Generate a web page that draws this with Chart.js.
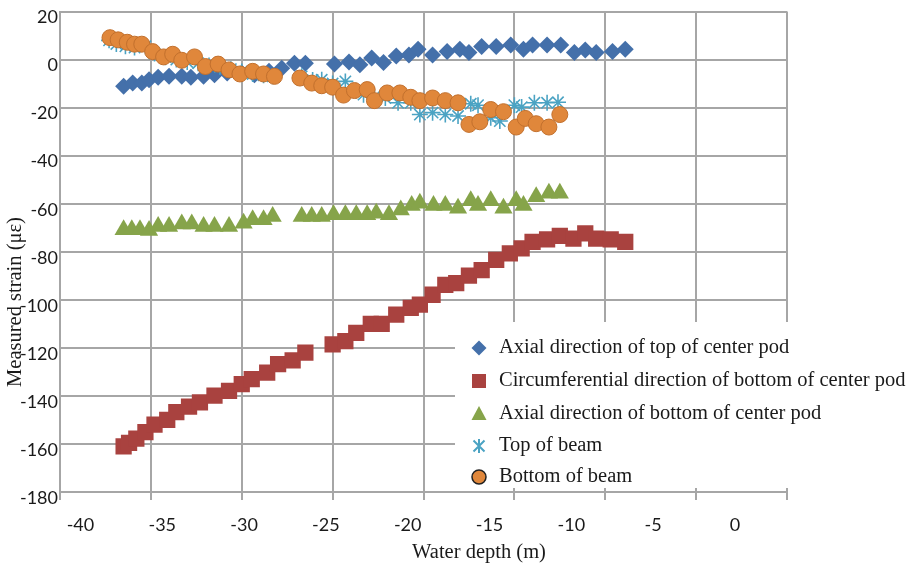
<!DOCTYPE html>
<html>
<head>
<meta charset="utf-8">
<title>Measured strain vs water depth</title>
<script src="https://cdn.jsdelivr.net/npm/chart.js@4.4.1/dist/chart.umd.min.js"></script>
<style>
  html, body { margin: 0; padding: 0; background: #fff; }
  canvas { display: block; }
</style>
</head>
<body>
<canvas id="strain" width="921" height="570"></canvas>
<script>
// water depth (m) / measured strain (microstrain)

const axialTopX = [-36.5, -36.0, -35.5, -35.1, -34.6, -34.0, -33.3, -32.8, -32.1, -31.5, -30.8, -30.0, -29.3, -28.5, -27.8, -27.1, -26.5,
    -24.9, -24.1, -23.5, -22.85, -22.2, -21.5, -20.8, -20.3, -19.5, -18.7, -18.0, -17.5, -16.8, -16.0, -15.2, -14.5, -14.0, -13.2, -12.45,
    -11.7, -11.1, -10.5, -9.6, -8.9];
const axialTopY = [-11.1, -9.8, -9.8, -8.4, -7.4, -7.0, -7.0, -7.4, -7.0, -6.3, -5.6, -5.6, -6.3, -4.9, -3.6, -1.5, -1.5,
    -1.9, -1.0, -2.2, 0.6, -1.2, 1.5, 1.9, 4.3, 1.9, 3.3, 4.3, 2.9, 5.4, 5.4, 6.1, 4.3, 6.1, 6.1, 6.1,
    2.9, 4.0, 2.9, 3.3, 4.3];

const circBottomX = [-36.5, -36.2, -35.8, -35.3, -34.8, -34.1, -33.6, -32.9, -32.3, -31.5, -30.7, -30.0, -29.45, -28.6, -28.0, -27.2, -26.5,
    -25.0, -24.3, -23.7, -22.9, -22.3, -21.5, -20.7, -20.2, -19.5, -18.8, -18.2, -17.5, -16.8, -16.0, -15.25, -14.6, -14.0, -13.2, -12.5,
    -11.75, -11.1, -10.5, -9.7, -8.9];
const circBottomY = [-161, -159.6, -157.8, -155.1, -152, -150, -146.8, -144.5, -142.7, -139.9, -137.9, -135.1, -133, -130.3, -126.8, -125.2, -122,
    -118.6, -117.2, -113.8, -110, -110, -106.2, -103.4, -102, -97.9, -93.8, -93.1, -89.9, -87.6, -83.4, -80.7, -78.6, -75.9, -74.8, -73.4,
    -74.5, -72.4, -74.5, -74.8, -75.9];

const axialBottomX = [-36.5, -36.05, -35.6, -35.1, -34.6, -34.0, -33.3, -32.75, -32.1, -31.5, -30.7, -29.9, -29.4, -28.8, -28.3,
    -26.7, -26.15, -25.6, -24.95,
    -24.3, -23.7, -23.1, -22.6, -21.9, -21.25, -20.65, -20.2, -19.45, -18.8, -18.1, -17.4, -17.0, -16.3, -15.6, -14.9, -14.5, -13.8, -13.1, -12.5];
const axialBottomY = [-70.8, -70.8, -70.8, -71.2, -69.5, -69.5, -68.5, -68.5, -69.5, -69.5, -69.5, -68.1, -66.7, -66.7, -65.3,
    -65.3, -65.3, -65.3, -64.6,
    -64.6, -64.6, -64.6, -64.0, -64.6, -62.6, -60.8, -59.8, -60.8, -60.8, -61.9, -58.8, -60.8, -58.8, -61.9, -58.8, -60.8, -57.1, -55.7, -55.7];

const topBeamX = [-37.3, -36.9, -36.4, -35.9, -35.3, -34.8, -34.2, -33.6, -33.0, -32.4, -31.8, -31.2, -30.6, -30.0, -29.4, -28.8, -28.3,
    -26.7, -26.1, -25.6, -25.0, -24.3, -23.7, -23.3, -22.7, -22.1, -21.4, -20.7, -20.2, -19.5, -18.8, -18.1, -17.4, -17.0, -16.3, -15.8,
    -15.0, -14.6, -13.9, -13.2, -12.6];
const topBeamY = [8, 6.5, 5.5, 5, 5.5, 2.5, 1, 0, -1, -1.5, -2.5, -3, -4, -5, -6, -6.5, -7,
    -7, -8.5, -8.4, -10, -9.1, -13, -14.6, -15.5, -16, -18, -18, -22.9, -22.1, -22.9, -23.5, -18.4, -19, -24.2, -25.6,
    -19, -19.8, -18, -18, -17.8];

const bottomBeamX = [-37.25, -36.8, -36.3, -35.9, -35.5, -34.9, -34.3, -33.8, -33.3, -32.6, -32.0, -31.3, -30.7, -30.1, -29.4, -28.8, -28.2,
    -26.8, -26.15, -25.6, -25.0, -24.4, -23.8, -23.1, -22.7, -22.0, -21.3, -20.7, -20.2, -19.5, -18.8, -18.1, -17.5, -16.9, -16.3, -15.6,
    -14.9, -14.4, -13.8, -13.1, -12.5];
const bottomBeamY = [9.1, 8.2, 7.2, 6.4, 6.4, 3.3, 1.1, 2.2, -0.3, 1.1, -2.9, -1.9, -4.3, -6.0, -4.9, -6.0, -7.0,
    -7.7, -9.8, -10.9, -11.5, -14.8, -12.9, -12.5, -17.1, -13.9, -13.9, -15.7, -17.1, -16.0, -17.1, -18.0, -27.0, -25.9, -20.8, -21.7,
    -28.1, -24.5, -26.7, -28.1, -22.9];

const seriesNames = [
    'Axial direction of top of center pod',
    'Circumferential direction of bottom of center pod',
    'Axial direction of bottom of center pod',
    'Top of beam',
    'Bottom of beam'
];
const xTickLabels = [-40, -35, -30, -25, -20, -15, -10, -5, 0];

const gridGray = '#A6A6A6';
const serif = '"Liberation Serif", "Times New Roman", serif';

function toPoints(xs, ys) {
    return xs.map((x, i) => ({ x: x, y: ys[i] }));
}

function noPad(s) {
    s.paddingTop = 0; s.paddingBottom = 0; s.paddingLeft = 0; s.paddingRight = 0;
}

// legend box sitting over the lower right of the plot + axis titles
const legendBox = {
    id: 'legendBox',
    afterDraw(chart) {
        const ctx = chart.ctx;
        ctx.save();
        ctx.fillStyle = '#fff';
        ctx.fillRect(455, 322, 466, 166);

        const rowY = [348, 381, 414, 446, 477];
        const mx = 479;
        chart.data.datasets.forEach((ds, i) => {
            const y = rowY[i];
            ctx.fillStyle = ds.backgroundColor;
            ctx.strokeStyle = ds.borderColor;
            ctx.beginPath();
            if (ds.pointStyle === 'rectRot') {
                ctx.moveTo(mx, y - 7.5); ctx.lineTo(mx + 7.5, y); ctx.lineTo(mx, y + 7.5); ctx.lineTo(mx - 7.5, y);
                ctx.closePath(); ctx.fill();
            } else if (ds.pointStyle === 'rect') {
                ctx.rect(mx - 7, y - 7, 14, 14); ctx.fill();
            } else if (ds.pointStyle === 'triangle') {
                ctx.moveTo(mx, y - 8); ctx.lineTo(mx + 7.5, y + 6); ctx.lineTo(mx - 7.5, y + 6);
                ctx.closePath(); ctx.fill();
            } else if (ds.pointStyle === 'star') {
                ctx.lineWidth = 2;
                ctx.moveTo(mx, y - 7); ctx.lineTo(mx, y + 7);
                ctx.moveTo(mx - 5.5, y - 5.5); ctx.lineTo(mx + 5.5, y + 5.5);
                ctx.moveTo(mx + 5.5, y - 5.5); ctx.lineTo(mx - 5.5, y + 5.5);
                ctx.stroke();
            } else {
                ctx.lineWidth = 1.5;
                ctx.strokeStyle = '#222';
                ctx.arc(mx, y, 7, 0, Math.PI * 2);
                ctx.fill(); ctx.stroke();
            }
            ctx.fillStyle = '#1a1a1a';
            ctx.font = '20.5px ' + serif;
            ctx.textBaseline = 'middle';
            ctx.textAlign = 'left';
            ctx.fillText(ds.label, 499, y);
        });

        ctx.fillStyle = '#1a1a1a';
        ctx.font = '20.5px ' + serif;
        ctx.textAlign = 'center';
        ctx.textBaseline = 'middle';
        ctx.fillText('Water depth (m)', 479, 553);

        ctx.translate(16, 302);
        ctx.rotate(-Math.PI / 2);
        ctx.fillText('Measured strain (\u03bc\u03b5)', 0, 0);
        ctx.restore();
    }
};

const ctx = document.getElementById('strain');
const chart = new Chart(ctx, {
    type: 'scatter',
    data: {
        datasets: [{
            label: seriesNames[0],
            data: toPoints(axialTopX, axialTopY),
            pointStyle: 'rectRot',
            pointRadius: 8.5,
            backgroundColor: '#4470AA',
            borderColor: '#4470AA',
            borderWidth: 0,
            order: 5
        }, {
            label: seriesNames[1],
            data: toPoints(circBottomX, circBottomY),
            pointStyle: 'rect',
            pointRadius: 11.5,
            backgroundColor: '#A9423F',
            borderColor: '#A9423F',
            borderWidth: 0,
            order: 4
        }, {
            label: seriesNames[2],
            data: toPoints(axialBottomX, axialBottomY),
            pointStyle: 'triangle',
            pointRadius: 10.5,
            backgroundColor: '#86A44A',
            borderColor: '#86A44A',
            borderWidth: 0,
            order: 3
        }, {
            label: seriesNames[3],
            data: toPoints(topBeamX, topBeamY),
            pointStyle: 'star',
            pointRadius: 8,
            backgroundColor: '#4BA3C3',
            borderColor: '#4BA3C3',
            borderWidth: 1.6,
            order: 2
        }, {
            label: seriesNames[4],
            data: toPoints(bottomBeamX, bottomBeamY),
            pointStyle: 'circle',
            pointRadius: 8,
            backgroundColor: '#E0873B',
            borderColor: '#C2702D',
            borderWidth: 1,
            order: 1
        }]
    },
    options: {
        responsive: false,
        animation: false,
        devicePixelRatio: 1,
        layout: { padding: { top: 8, right: 134, left: 0, bottom: 0 } },
        plugins: {
            legend: { display: false },
            tooltip: { enabled: false }
        },
        scales: {
            x: {
                type: 'linear',
                position: 'bottom',
                weight: 0,
                min: -40,
                max: 0,
                ticks: { stepSize: 5, display: false },
                grid: { color: gridGray, lineWidth: 2, drawTicks: true, tickLength: 8, tickColor: gridGray, tickWidth: 2 },
                border: { color: gridGray, width: 2 },
                afterFit: (s) => { s.height = 8; noPad(s); }
            },
            xl: {
                type: 'linear',
                position: 'bottom',
                weight: 1,
                min: -41.25,
                max: 3.18,
                afterBuildTicks: (s) => { s.ticks = xTickLabels.map(v => ({ value: v })); },
                ticks: {
                    autoSkip: false,
                    maxRotation: 0,
                    padding: 14,
                    color: '#1a1a1a',
                    font: { family: 'Lato', size: 18 }
                },
                grid: { display: false, drawTicks: false },
                border: { display: false },
                afterFit: (s) => { s.height = 70; noPad(s); }
            },
            y: {
                min: -180,
                max: 20,
                ticks: {
                    stepSize: 20,
                    padding: 2,
                    labelOffset: 6,
                    color: '#1a1a1a',
                    font: { family: 'Lato', size: 18 }
                },
                grid: { color: gridGray, lineWidth: 2, drawTicks: false },
                border: { color: gridGray, width: 2 },
                afterFit: (s) => { s.width = 60; noPad(s); }
            }
        }
    },
    plugins: [legendBox]
});
</script>
</body>
</html>
